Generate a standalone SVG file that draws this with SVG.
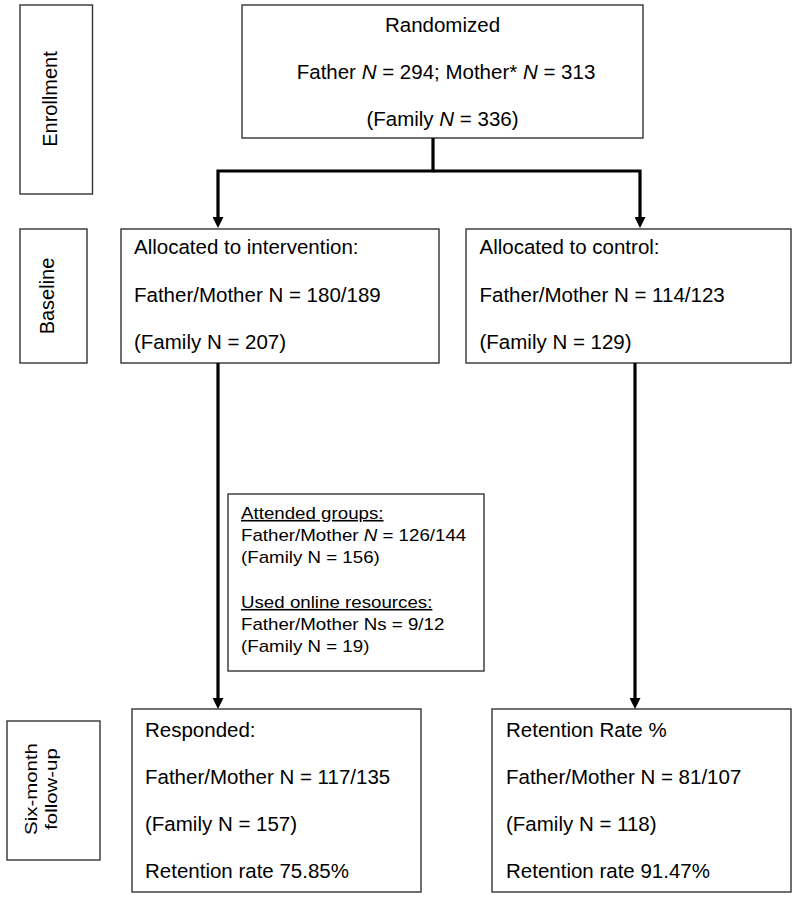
<svg xmlns="http://www.w3.org/2000/svg" width="797" height="900" viewBox="0 0 797 900">
<style>
.box{fill:#fff;stroke:#333;stroke-width:1.4}
.t{font-family:"Liberation Sans",Arial,sans-serif;font-size:20.5px;fill:#000}
.s{font-family:"Liberation Sans",Arial,sans-serif;font-size:16px;fill:#000}
.r{font-family:"Liberation Sans",Arial,sans-serif;font-size:20px;fill:#000;text-anchor:middle}
.r2{font-family:"Liberation Sans",Arial,sans-serif;font-size:17px;fill:#000;text-anchor:middle}
.c{fill:none;stroke:#000;stroke-width:3.2;stroke-linejoin:miter}
.u{text-decoration:underline}
</style>
<defs>
<marker id="ah" markerUnits="userSpaceOnUse" viewBox="0 0 11 11" refX="0" refY="5.5" markerWidth="11" markerHeight="11" orient="auto">
<path d="M0,0 L11,5.5 L0,11 z" fill="#000"/>
</marker>
</defs>
<rect width="797" height="900" fill="#fff"/>

<g id="label-enrollment">
<rect class="box" x="20" y="5" width="72.5" height="189"/>
<text class="r" transform="translate(57,99) rotate(-90)">Enrollment</text>
</g>
<g id="label-baseline">
<rect class="box" x="20" y="229" width="67" height="134"/>
<text class="r" transform="translate(53.5,296) rotate(-90)">Baseline</text>
</g>
<g id="label-followup">
<rect class="box" x="7" y="721" width="93" height="139"/>
<text class="r2" transform="translate(37,789) rotate(-90) scale(1.2,1)">Six-month</text>
<text class="r2" transform="translate(57,789) rotate(-90) scale(1.2,1)">follow-up</text>
</g>

<g id="randomized">
<rect class="box" x="242" y="5" width="401" height="133"/>
<text class="t" x="442.5" y="32" text-anchor="middle">Randomized</text>
<text class="t" x="446" y="79" text-anchor="middle">Father <tspan font-style="italic">N</tspan> = 294; Mother* <tspan font-style="italic">N</tspan> = 313</text>
<text class="t" x="442.5" y="126" text-anchor="middle">(Family <tspan font-style="italic">N</tspan> = 336)</text>
</g>

<g id="intervention">
<rect class="box" x="121" y="229" width="318" height="134"/>
<text class="t" x="134" y="254">Allocated to intervention:</text>
<text class="t" x="134" y="301.5">Father/Mother N = 180/189</text>
<text class="t" x="134" y="349">(Family N = 207)</text>
</g>

<g id="control">
<rect class="box" x="466" y="229" width="325" height="134"/>
<text class="t" x="479.5" y="254">Allocated to control:</text>
<text class="t" x="479.5" y="301.5">Father/Mother N = 114/123</text>
<text class="t" x="479.5" y="349">(Family N = 129)</text>
</g>

<g id="attended">
<rect class="box" x="228" y="494" width="256" height="177"/>
<g transform="translate(241,0) scale(1.17,1)">
<text class="s u" x="0" y="519">Attended groups:</text>
<text class="s" x="0" y="541">Father/Mother <tspan font-style="italic">N</tspan> = 126/144</text>
<text class="s" x="0" y="563">(Family N = 156)</text>
<text class="s u" x="0" y="608">Used online resources:</text>
<text class="s" x="0" y="630">Father/Mother Ns = 9/12</text>
<text class="s" x="0" y="652">(Family N = 19)</text>
</g>
</g>

<g id="responded">
<rect class="box" x="132" y="709" width="289" height="183"/>
<text class="t" x="145" y="737">Responded:</text>
<text class="t" x="145" y="784">Father/Mother N = 117/135</text>
<text class="t" x="145" y="831">(Family N = 157)</text>
<text class="t" x="145" y="878">Retention rate 75.85%</text>
</g>

<g id="control-followup">
<rect class="box" x="492" y="709" width="299" height="183"/>
<text class="t" x="506" y="737">Retention Rate %</text>
<text class="t" x="506" y="784">Father/Mother N = 81/107</text>
<text class="t" x="506" y="831">(Family N = 118)</text>
<text class="t" x="506" y="878">Retention rate 91.47%</text>
</g>

<g id="connectors">
<path class="c" d="M433,138 V171 H218 V217" marker-end="url(#ah)"/>
<path class="c" d="M433,171 H640 V217" marker-end="url(#ah)"/>
<path class="c" d="M218,363 V698" marker-end="url(#ah)"/>
<path class="c" d="M635,363 V698" marker-end="url(#ah)"/>
</g>
</svg>
